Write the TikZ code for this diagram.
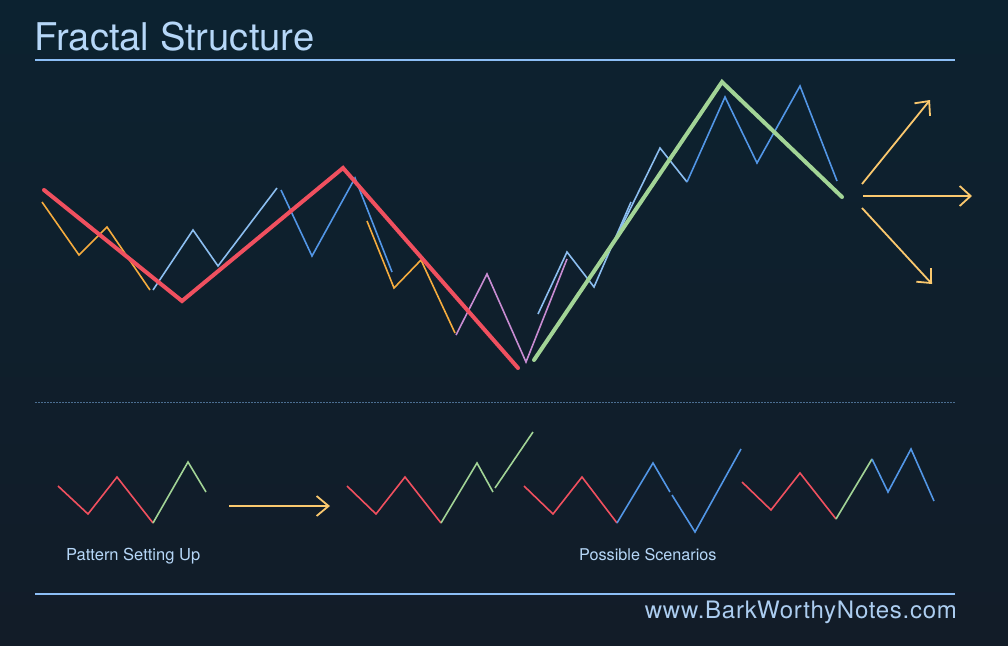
\documentclass[tikz,border=0pt]{standalone}
\usepackage{fontspec}
\setmainfont{TeX Gyre Heros}
\usetikzlibrary{arrows.meta}
\definecolor{bgtop}{RGB}{12,34,48}
\definecolor{bgbot}{RGB}{18,28,40}
\definecolor{cred}{RGB}{240,80,95}
\definecolor{corange}{RGB}{245,172,62}
\definecolor{clblue}{RGB}{140,190,240}
\definecolor{cmblue}{RGB}{82,150,230}
\definecolor{cpink}{RGB}{200,140,210}
\definecolor{cgreen}{RGB}{162,212,150}
\definecolor{carrow}{RGB}{250,200,110}
\definecolor{ctitle}{RGB}{182,215,248}
\definecolor{crule}{RGB}{140,190,245}
\definecolor{cdot}{RGB}{75,110,145}
\definecolor{cfoot}{RGB}{172,205,240}
\tikzset{
  thinline/.style={line width=1.6pt, line join=miter},
  boldline/.style={line width=4pt, line cap=round, line join=miter},
  smallline/.style={line width=1.6pt},
  bigarrow/.style={carrow, line width=1.8pt, -{Straight Barb[length=11pt,width=20pt,line width=1.8pt]}},
  rulestyle/.style={crule, line width=1.6pt},
  labeltext/.style={text=ctitle, inner sep=0pt, font=\fontsize{16.5}{18}\selectfont},
}
\begin{document}
\begin{tikzpicture}[x=1pt,y=-1pt]
\shade[top color=bgtop, bottom color=bgbot] (0,0) rectangle (1008,645);
\useasboundingbox (0,0) rectangle (1008,645);
% title
\node[anchor=base west, inner sep=0pt, text=ctitle, font=\fontsize{38.2}{40}\selectfont] (title) at (34,50) {Fractal Structure};
\coordinate (t1) at (35,60); \coordinate (t2) at (955,60);
\draw[rulestyle] (t1) -- (t2);
% main chart: thin swings
\draw[thinline, corange] (42,202) -- (79,255) -- (107,227) -- (150,290);
\draw[thinline, clblue] (153,290) -- (193,230) -- (218,266) -- (277,188);
\draw[thinline, cmblue] (281,190) -- (312,256) -- (355,178) -- (392,272);
\draw[thinline, corange] (367,221) -- (394,288) -- (421,260) -- (455,333);
\draw[thinline, cpink] (456,335) -- (487,274) -- (526,362) -- (567,259);
\draw[thinline, clblue] (538,314) -- (567,252) -- (594,287) -- (631,202);
\draw[thinline, clblue] (617,236) -- (660,148) -- (687,182);
\draw[thinline, cmblue] (687,182) -- (725,97) -- (757,163) -- (800,86) -- (837,181);
% bold swings
\draw[boldline, cred] (44,190) -- (182,301) -- (343,168) -- (518,368);
\draw[boldline, cgreen] (534,360) -- (722,82) -- (842,197);
% scenario arrows
\coordinate (a0) at (862,184); \coordinate (a1) at (930,100);
\coordinate (b0) at (863,196); \coordinate (b1) at (972,196);
\coordinate (c0) at (862,208); \coordinate (c1) at (932,284);
\draw[bigarrow] (a0) -- (a1);
\draw[bigarrow] (b0) -- (b1);
\draw[bigarrow] (c0) -- (c1);
% dotted separator
\coordinate (d1) at (35,402); \coordinate (d2) at (955,402);
\draw[cdot, line width=0.9pt, dash pattern=on 1.6pt off 1.4pt] (d1) -- (d2);
% bottom small charts
\draw[smallline, cred] (58,486) -- (88,514) -- (117,477) -- (153,523);
\draw[smallline, cgreen] (153,523) -- (188,462) -- (206,492);
\coordinate (p0) at (229,506); \coordinate (p1) at (330,506);
\draw[carrow, line width=1.8pt, -{Straight Barb[length=12pt,width=20pt,line width=1.8pt]}] (p0) -- (p1);
\node[labeltext, anchor=base west] (lab1) at (66,560) {Pattern Setting Up};

\draw[smallline, cred] (347,486) -- (376,514) -- (405,477) -- (441,523);
\draw[smallline, cgreen] (441,523) -- (477,463) -- (493,492);
\draw[smallline, cgreen] (495,488) -- (533,432);

\draw[smallline, cred] (524,486) -- (553,514) -- (582,477) -- (617,523);
\draw[smallline, cmblue] (617,523) -- (653,463) -- (670,492);
\draw[smallline, cmblue] (672,495) -- (695,532) -- (741,449);
\node[labeltext, anchor=base west, font=\fontsize{16.2}{18}\selectfont] (lab2) at (579,560) {Possible Scenarios};

\draw[smallline, cred] (742,482) -- (771,510) -- (800,473) -- (836,519);
\draw[smallline, cgreen] (836,519) -- (872,459);
\draw[smallline, cmblue] (872,459) -- (888,492) -- (911,449) -- (934,501);
% footer
\coordinate (f1) at (35,594); \coordinate (f2) at (955,594);
\draw[rulestyle] (f1) -- (f2);
\node[anchor=base east, inner sep=0pt, text=cfoot, font=\fontsize{24}{26}\selectfont\addfontfeature{LetterSpace=3.0}] (foot) at (957,618) {www.BarkWorthyNotes.com};
\end{tikzpicture}
\end{document}
